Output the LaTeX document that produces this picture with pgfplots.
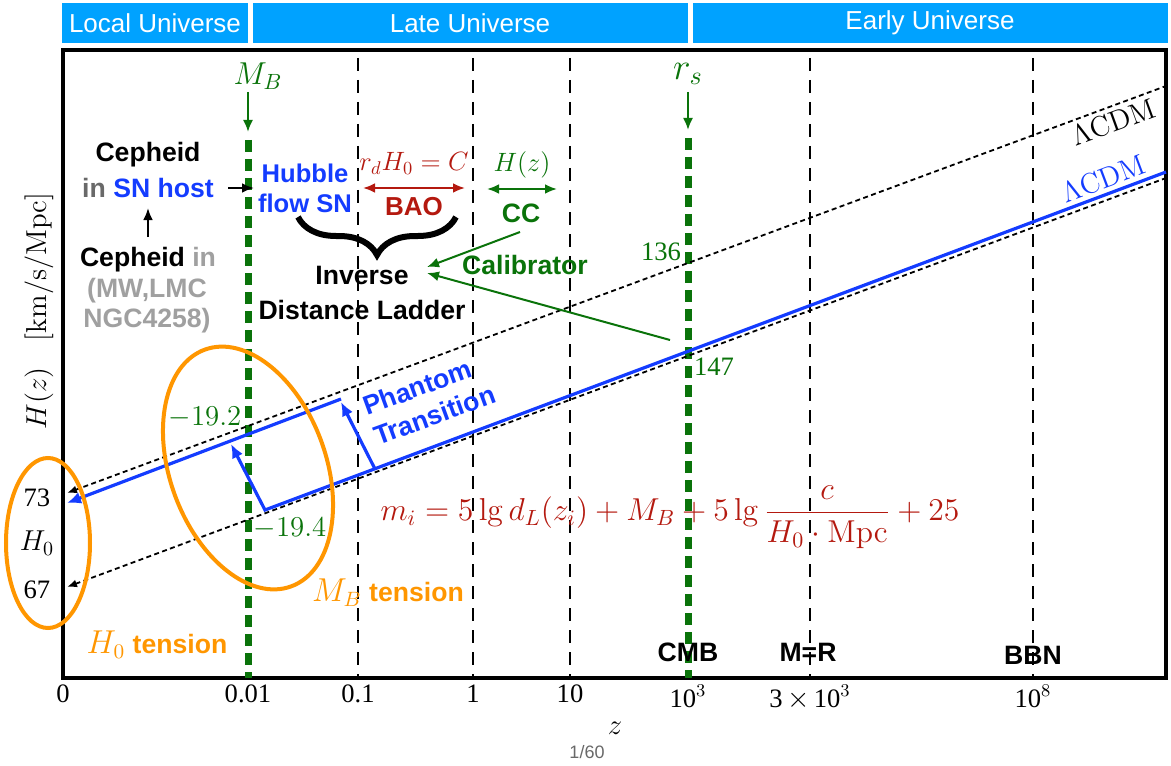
\documentclass[border=0pt]{standalone}
\usepackage{graphicx}
\usepackage[no-math]{fontspec}
\setmainfont{Liberation Sans}
\newfontfamily\serif{Liberation Serif}
\usepackage{pgfplots}
\pgfplotsset{compat=1.18}
\usetikzlibrary{arrows.meta,decorations.pathreplacing,shapes.geometric}
\definecolor{bannerblue}{RGB}{0,162,255}
\definecolor{myblue}{RGB}{20,60,255}
\definecolor{mygreen}{RGB}{10,115,10}
\definecolor{myred}{RGB}{180,25,15}
\definecolor{myorange}{RGB}{255,150,0}
\definecolor{grayA}{RGB}{105,105,105}
\definecolor{grayB}{RGB}{160,160,160}
\newcommand\bsf{\fontsize{13.3}{16}\selectfont\bfseries}
\begin{document}
\begin{tikzpicture}
\begin{axis}[
  scale only axis, width=551.5pt, height=314pt,
  xmin=63, xmax=1166, ymin=86, ymax=714,
  axis line style={line width=2pt, black},
  clip=false,
  xtick={63,248,358,473,570,688,810,1033},
  xticklabels={{0},{0.01},{0.1},{1},{10},{10$^{3}$},{3\,$\times$\,10$^{3}$},{10$^{8}$}},
  xticklabel style={font=\serif\fontsize{13.3}{15}\selectfont, text=black},
  ytick=\empty,
  major tick length=0pt,
  bdash/.style={black, line width=1pt, dash pattern=on 6.5pt off 4.5pt},
  gdash/.style={mygreen, line width=3.5pt, dash pattern=on 6pt off 3.5pt},
  dotl/.style={black, line width=0.9pt, dash pattern=on 2.5pt off 1.7pt},
  bline/.style={myblue, line width=1.6pt},
]
% invisible extent
\path (axis cs:0,0) rectangle (axis cs:1171,764);
% banner
\fill[bannerblue] (axis cs:62,721) rectangle (axis cs:248,761);
\fill[bannerblue] (axis cs:253,721) rectangle (axis cs:688,761);
\fill[bannerblue] (axis cs:693,721) rectangle (axis cs:1168,761);
\node[text=white, font=\fontsize{13}{15}\selectfont] at (axis cs:155,741) {Local Universe};
\node[text=white, font=\fontsize{13}{15}\selectfont] at (axis cs:470,741) {Late Universe};
\node[text=white, font=\fontsize{13}{15}\selectfont] at (axis cs:930,741) {Early Universe};

% vertical dashed lines
\addplot[bdash] coordinates {(358,706) (358,86)};
\addplot[bdash] coordinates {(473,706) (473,86)};
\addplot[bdash] coordinates {(570,706) (570,86)};
\addplot[bdash] coordinates {(810,706) (810,86)};
\addplot[bdash] coordinates {(1033,706) (1033,86)};
\addplot[gdash] coordinates {(248,624) (248,86)};
\addplot[gdash] coordinates {(688,626) (688,86)};
% green arrows from M_B and r_s
\addplot[mygreen, line width=1pt, -{Latex[length=6pt,width=5pt]}] coordinates {(248,672) (248,632)};
\addplot[mygreen, line width=1pt, -{Latex[length=6pt,width=5pt]}] coordinates {(688,672) (688,634)};
\node[text=mygreen, font=\fontsize{14.4}{17}\selectfont] at (axis cs:258,688) {\scalebox{1.1}{$M_B$}};
\node[text=mygreen, font=\fontsize{14.4}{17}\selectfont] at (axis cs:688,690) {\scalebox{1.3}{$r_s$}};

% LCDM dotted lines
\addplot[dotl, {Latex[length=5pt,width=4pt]}-] coordinates {(67,271) (1166,678)};
\addplot[dotl, {Latex[length=5pt,width=4pt]}-] coordinates {(67,177) (1166,586)};
% blue lines
\addplot[bline, -{Latex[length=7pt,width=6pt]}] coordinates {(1166,592) (265,254) (231,320)};
\addplot[bline, -{Latex[length=7pt,width=6pt]}] coordinates {(375,295) (341,362)};
\addplot[bline, -{Latex[length=7pt,width=6pt]}] coordinates {(341,365) (67,261)};

% ellipses
\node[draw=myorange, line width=2pt, ellipse, inner sep=0pt, minimum width=42pt, minimum height=85pt] at (axis cs:48,221) {};
\node[draw=myorange, line width=2pt, ellipse, inner sep=0pt, minimum width=78pt, minimum height=126pt, rotate=20] at (axis cs:248,296) {};

% y labels
\node[rotate=90, font=\fontsize{13.3}{15}\selectfont] at (axis cs:39,453) {$H(z)$\hspace{13pt}$[\mathrm{km/s/Mpc}]$};
\node[font=\serif\fontsize{13.3}{15}\selectfont] at (axis cs:37,266) {73};
\node[font=\fontsize{14.4}{16}\selectfont] at (axis cs:37,221) {$H_0$};
\node[font=\serif\fontsize{13.3}{15}\selectfont] at (axis cs:37,174) {67};

% left texts
\node[font=\bsf] at (axis cs:148,609) {Cepheid};
\node[font=\bsf] at (axis cs:148,576) {{\color{grayA}in} {\color{myblue}SN host}};
\addplot[black, line width=1.2pt, -{Latex[length=6pt,width=5pt]}] coordinates {(228,576) (254,576)};
\addplot[black, line width=1.2pt, -{Latex[length=6pt,width=5pt]}] coordinates {(148,527) (148,556)};
\node[font=\bsf] at (axis cs:148,504) {Cepheid {\color{grayB}in}};
\node[font=\bsf, text=grayB, align=center] at (axis cs:147,458) {(MW,LMC\\[-1pt]NGC4258)};

% Hubble flow SN, BAO
\node[font=\fontsize{12.8}{15}\selectfont\bfseries, text=myblue, align=center] at (axis cs:305,576) {Hubble\\flow SN};
\node[text=myred, font=\fontsize{14.4}{16}\selectfont] at (axis cs:414,601) {\scalebox{0.92}{$r_dH_0=C$}};
\addplot[myred, line width=1.2pt, {Latex[length=6pt,width=5pt]}-{Latex[length=6pt,width=5pt]}] coordinates {(363,576) (465,576)};
\node[text=myred, font=\fontsize{13}{15}\selectfont\bfseries] at (axis cs:414,557) {BAO};
\draw[black, line width=3pt, decorate, decoration={brace, amplitude=19pt, aspect=0.5}] (axis cs:456,547) -- (axis cs:298,547);
\node[font=\bsf] at (axis cs:362,489) {Inverse};
\node[font=\bsf] at (axis cs:362,454) {Distance Ladder};

% CC
\node[text=mygreen, font=\fontsize{14.4}{16}\selectfont] at (axis cs:522,599) {\scalebox{0.92}{$H(z)$}};
\addplot[mygreen, line width=1.2pt, {Latex[length=6pt,width=5pt]}-{Latex[length=6pt,width=5pt]}] coordinates {(487,575) (557,575)};
\node[text=mygreen, font=\bsf] at (axis cs:521,551) {CC};
\node[text=mygreen, font=\bsf] at (axis cs:525,499) {Calibrator};
\addplot[mygreen, line width=1pt, -{Latex[length=6pt,width=5pt]}] coordinates {(520,532) (427,497)};
\addplot[mygreen, line width=1pt, -{Latex[length=6pt,width=5pt]}] coordinates {(670,424) (427,491)};
\node[text=mygreen, font=\serif\fontsize{13.3}{15}\selectfont] at (axis cs:661,512) {136};
\node[text=mygreen, font=\serif\fontsize{13.3}{15}\selectfont] at (axis cs:714,397) {147};

% M_B values
\node[text=mygreen, font=\fontsize{14.4}{16}\selectfont] at (axis cs:205,347) {$-19.2$};
\node[text=mygreen, font=\fontsize{14.4}{16}\selectfont] at (axis cs:290,236) {$-19.4$};

% phantom transition
\node[rotate=20, align=left, text=myblue, font=\bsf] at (axis cs:429,364) {Phantom\\Transition};

% tensions
\node[text=myorange, font=\bsf] at (axis cs:388,171) {\scalebox{1.15}{$M_B$} tension};
\node[text=myorange, font=\bsf] at (axis cs:157,119) {\scalebox{1.15}{$H_0$} tension};

% formula
\node[text=myred, font=\fontsize{14.4}{18}\selectfont] at (axis cs:670,247) {\scalebox{1.1}{$m_i = 5\lg d_L(z_i) + M_B + 5\lg\displaystyle\frac{c}{H_0\cdot\mathrm{Mpc}} + 25$}};

% LCDM labels
\node[rotate=20, font=\fontsize{14.4}{16}\selectfont] at (axis cs:1113,642) {$\Lambda\mathrm{CDM}$};
\node[rotate=20.6, text=myblue, font=\fontsize{14.4}{16}\selectfont] at (axis cs:1103,585) {$\Lambda\mathrm{CDM}$};

% epoch labels
\node[font=\bsf] at (axis cs:688,112) {CMB};
\node[font=\bsf] at (axis cs:808,112) {M=R};
\node[font=\bsf] at (axis cs:1033,109) {BBN};

% axis label and page number
\node[font=\fontsize{14.4}{16}\selectfont] at (axis cs:615,36) {$z$};
\node[text=grayA, font=\fontsize{9}{11}\selectfont] at (axis cs:587,12) {1/60};
\end{axis}
\end{tikzpicture}
\end{document}
